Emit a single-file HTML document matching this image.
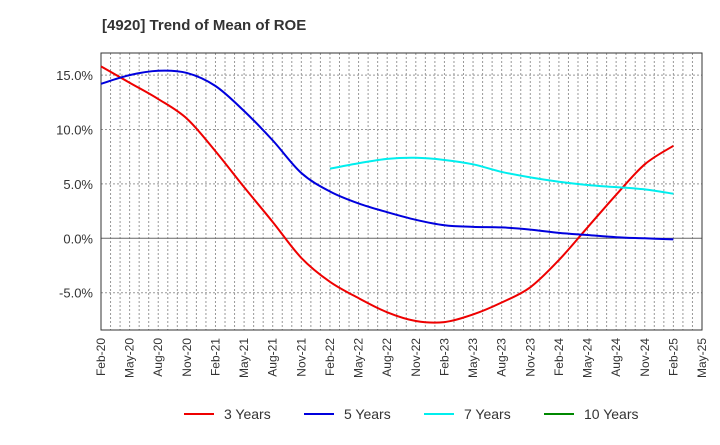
<!DOCTYPE html>
<html><head><meta charset="utf-8"><style>
body{margin:0;background:#fff;font-family:"Liberation Sans",Arial,sans-serif}
</style></head><body>
<svg id="c" width="720" height="440" xmlns="http://www.w3.org/2000/svg" font-family="Liberation Sans, Arial, sans-serif">
<text x="102" y="30" font-size="15" font-weight="bold" fill="#333">[4920]  Trend of Mean of ROE</text>
<g id="grid"></g><g id="axes"></g><g id="series"></g><g id="legend"></g>
</svg>
<script>
const tickLabels=["Feb-20","May-20","Aug-20","Nov-20","Feb-21","May-21","Aug-21","Nov-21","Feb-22","May-22","Aug-22","Nov-22","Feb-23","May-23","Aug-23","Nov-23","Feb-24","May-24","Aug-24","Nov-24","Feb-25","May-25"];
const yTicks=[-5,0,5,10,15];
const s3=[15.8,14.3,12.8,11.0,8.0,4.7,1.5,-1.8,-4.0,-5.5,-6.8,-7.6,-7.7,-7.0,-5.9,-4.5,-2.0,1.0,4.0,6.8,8.5];
const s5=[14.2,15.0,15.4,15.2,14.0,11.7,9.0,6.0,4.3,3.2,2.4,1.7,1.2,1.05,1.0,0.8,0.5,0.3,0.1,0.0,-0.1];
const s7=[6.4,6.9,7.3,7.4,7.2,6.8,6.1,5.6,5.2,4.9,4.7,4.5,4.1];
const s7Start=8;
const s10=[];
const L=101,R=702,T=53,B=330;
const X=q=>L+q*3*(R-L)/63;
const Y=v=>238.3-v*54.4/5;
const ns="http://www.w3.org/2000/svg";
function mk(t,a,p){const e=document.createElementNS(ns,t);for(const k in a)e.setAttribute(k,a[k]);p.appendChild(e);return e;}
const g=document.getElementById('grid'),ax=document.getElementById('axes'),se=document.getElementById('series'),lg=document.getElementById('legend');
for(let m=1;m<63;m++){const x=L+m*(R-L)/63;const l=mk('line',{x1:x,x2:x,y1:T,y2:B,stroke:'#999','stroke-width':1,'stroke-dasharray':'2,2'},g);

}
yTicks.forEach(v=>{const y=Y(v);const l=mk('line',{x1:L,x2:R,y1:y,y2:y,stroke:v===0?'#666':'#999','stroke-width':1,'stroke-dasharray':v===0?'':'2,2'},g);


const t=mk('text',{x:L-8,y:y+5,'text-anchor':'end','font-size':13,fill:'#333'},ax);t.textContent=v.toFixed(1)+'%';

});
const fr=mk('rect',{x:L,y:T,width:R-L,height:B-T,fill:'none',stroke:'#333','stroke-width':1},ax);


tickLabels.forEach((s,i)=>{const x=X(i)+4;const t=mk('text',{x:x,y:B+8,'text-anchor':'end','font-size':12,fill:'#333',transform:`rotate(-90 ${x} ${B+8})`},ax);t.textContent=s;

});
function path(pts){let d=`M${pts[0][0]},${pts[0][1]}`;for(let i=0;i<pts.length-1;i++){const p0=pts[Math.max(0,i-1)],p1=pts[i],p2=pts[i+1],p3=pts[Math.min(pts.length-1,i+2)];
d+=` C${p1[0]+(p2[0]-p0[0])/6},${p1[1]+(p2[1]-p0[1])/6} ${p2[0]-(p3[0]-p1[0])/6},${p2[1]-(p3[1]-p1[1])/6} ${p2[0]},${p2[1]}`;}return d;}
function draw(arr,start,color,name){if(!arr.length)return;const pts=arr.map((v,i)=>[X(start+i),Y(v)]);const p=mk('path',{d:path(pts),fill:'none',stroke:color,'stroke-width':2},se);

}
draw(s3,0,'#e00','series-3-years');draw(s5,0,'#00d','series-5-years');draw(s7,s7Start,'#0ee','series-7-years');draw(s10,0,'#080','series-10-years');
[["3 Years","#e00",184],["5 Years","#00d",304],["7 Years","#0ee",424],["10 Years","#080",544]].forEach(([n,c,x])=>{
const l=mk('line',{x1:x,x2:x+30,y1:414,y2:414,stroke:c,'stroke-width':2},lg);


const t=mk('text',{x:x+40,y:419,'font-size':14,fill:'#333'},lg);t.textContent=n;

});
</script>
</body></html>
